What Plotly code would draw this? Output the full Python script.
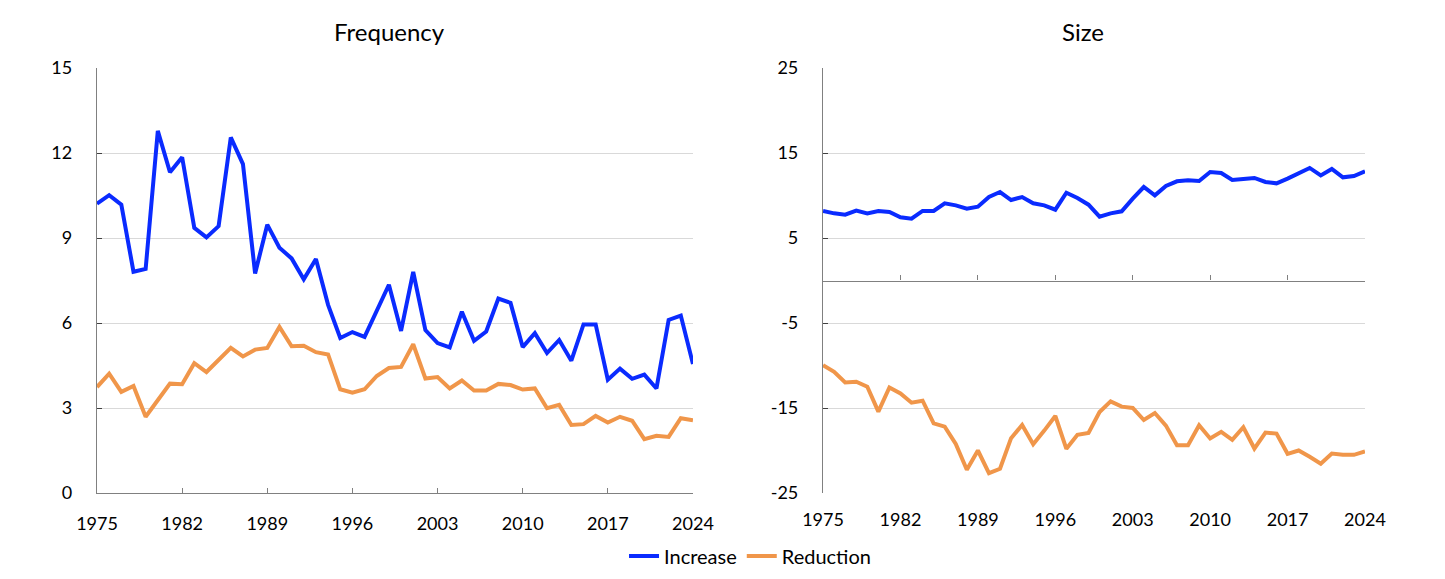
import plotly.graph_objects as go

years = list(range(1975, 2025))

freq_increase = [10.21, 10.51, 10.18, 7.81, 7.91, 12.78, 11.32, 11.85, 9.36, 9.02,
                 9.42, 12.55, 11.61, 7.75, 9.47, 8.66, 8.28, 7.54, 8.26, 6.64,
                 5.47, 5.68, 5.51, 6.41, 7.35, 5.72, 7.80, 5.75, 5.29, 5.14,
                 6.40, 5.37, 5.70, 6.86, 6.71, 5.15, 5.64, 4.94, 5.40, 4.67,
                 5.95, 5.95, 4.00, 4.39, 4.03, 4.18, 3.69, 6.11, 6.26, 4.55]

freq_reduction = [3.74, 4.21, 3.57, 3.78, 2.69, 3.25, 3.86, 3.84, 4.58, 4.27,
                  4.71, 5.12, 4.82, 5.06, 5.12, 5.86, 5.18, 5.20, 4.97, 4.89,
                  3.66, 3.54, 3.66, 4.13, 4.41, 4.45, 5.25, 4.04, 4.09, 3.69,
                  3.97, 3.62, 3.62, 3.85, 3.81, 3.65, 3.69, 2.99, 3.11, 2.40,
                  2.43, 2.72, 2.49, 2.69, 2.55, 1.90, 2.02, 1.98, 2.64, 2.57]

size_increase = [8.18, 7.90, 7.75, 8.22, 7.90, 8.18, 8.06, 7.43, 7.27, 8.18,
                 8.18, 9.08, 8.84, 8.45, 8.69, 9.82, 10.41, 9.47, 9.82, 9.08,
                 8.84, 8.33, 10.33, 9.71, 8.92, 7.51, 7.90, 8.14, 9.63, 11.00,
                 10.02, 11.12, 11.67, 11.78, 11.71, 12.76, 12.65, 11.82, 11.94, 12.06,
                 11.59, 11.43, 11.98, 12.61, 13.24, 12.37, 13.12, 12.14, 12.29, 12.84]

size_reduction = [-9.96, -10.74, -11.99, -11.91, -12.50, -15.43, -12.58, -13.28, -14.38, -14.14,
                  -16.80, -17.19, -19.22, -22.27, -20.00, -22.66, -22.15, -18.55, -16.99, -19.26,
                  -17.66, -15.94, -19.80, -18.16, -17.93, -15.47, -14.22, -14.84, -15.00, -16.41,
                  -15.59, -17.07, -19.38, -19.38, -17.03, -18.59, -17.81, -18.75, -17.27, -19.77,
                  -17.89, -18.01, -20.39, -20.00, -20.74, -21.56, -20.35, -20.51, -20.51, -20.12]

x_ticks = [1975, 1982, 1989, 1996, 2003, 2010, 2017, 2024]
freq_ticks = [0, 3, 6, 9, 12, 15]
size_ticks = [-25, -15, -5, 5, 15, 25]
size_tick_text = [str(v) for v in size_ticks]

BLUE = "#0A2BFF"
ORANGE = "#F0964A"
GRID = "#D9D9D9"
AXIS = "#808080"
FONT = "Lato"

fig = go.Figure()
fig.add_trace(go.Scatter(x=years, y=freq_increase, mode="lines", name="Increase",
                         line=dict(color=BLUE, width=4), xaxis="x", yaxis="y"))
fig.add_trace(go.Scatter(x=years, y=freq_reduction, mode="lines", name="Reduction",
                         line=dict(color=ORANGE, width=4), xaxis="x", yaxis="y"))
fig.add_trace(go.Scatter(x=years, y=size_increase, mode="lines", name="Increase",
                         line=dict(color=BLUE, width=4), xaxis="x2", yaxis="y2",
                         showlegend=False))
fig.add_trace(go.Scatter(x=years, y=size_reduction, mode="lines", name="Reduction",
                         line=dict(color=ORANGE, width=4), xaxis="x3", yaxis="y2",
                         showlegend=False))

left_dom = [0.0, 0.470]
right_dom = [0.5726, 1.0]

tick_font = dict(family=FONT, size=18, color="#000000")

fig.update_layout(
    width=1445, height=579,
    margin=dict(l=89, r=88, t=60, b=90),
    paper_bgcolor="white", plot_bgcolor="white",
    font=dict(family=FONT, size=18, color="#000000"),
    xaxis=dict(domain=left_dom, anchor="y", range=[1975, 2024], tickvals=x_ticks,
               ticks="inside", ticklen=5, tickcolor=AXIS, showgrid=False, zeroline=False,
               showline=True, linecolor=AXIS, linewidth=1.3,
               ticklabelstandoff=14, tickfont=tick_font),
    yaxis=dict(domain=[0, 1], anchor="x", range=[0, 15], tickvals=freq_ticks,
               showgrid=True, gridcolor=GRID, gridwidth=1, zeroline=False,
               showline=True, linecolor=AXIS, linewidth=1.3,
               ticks="inside", ticklen=5, tickcolor="#404040",
               ticklabelstandoff=20, tickfont=tick_font),
    xaxis2=dict(domain=right_dom, anchor="y2", range=[1975, 2024], tickvals=x_ticks,
                ticks="", showline=False, showgrid=False, zeroline=False,
                ticklabelstandoff=14, tickfont=tick_font),
    xaxis3=dict(overlaying="x2", anchor="free", position=0.5, side="bottom",
                range=[1975, 2024], tickvals=x_ticks, ticks="inside", ticklen=5,
                tickcolor=AXIS, showline=True, linecolor=AXIS, linewidth=1.3,
                showticklabels=False, showgrid=False, zeroline=False),
    yaxis2=dict(domain=[0, 1], anchor="x2", range=[-25, 25], tickvals=size_ticks,
                ticktext=size_tick_text,
                showgrid=True, gridcolor=GRID, gridwidth=1, zeroline=False,
                showline=True, linecolor=AXIS, linewidth=1.3,
                ticks="inside", ticklen=5, tickcolor="#404040",
                ticklabelstandoff=20, tickfont=tick_font),
    legend=dict(orientation="h", x=0.515, xanchor="center", y=-0.148, yanchor="middle",
                font=dict(family=FONT, size=20, color="#000000"),
                itemwidth=30, tracegroupgap=0, bgcolor="rgba(0,0,0,0)"),
    annotations=[
        dict(text="Frequency", x=sum(left_dom) / 2 - 0.004, y=1.086, xref="paper", yref="paper",
             xanchor="center", yanchor="middle", showarrow=False,
             font=dict(family=FONT, size=24, color="#000000")),
        dict(text="Size", x=sum(right_dom) / 2 - 0.009, y=1.086, xref="paper", yref="paper",
             xanchor="center", yanchor="middle", showarrow=False,
             font=dict(family=FONT, size=24, color="#000000")),
    ],
)

fig.write_html("out.html")
